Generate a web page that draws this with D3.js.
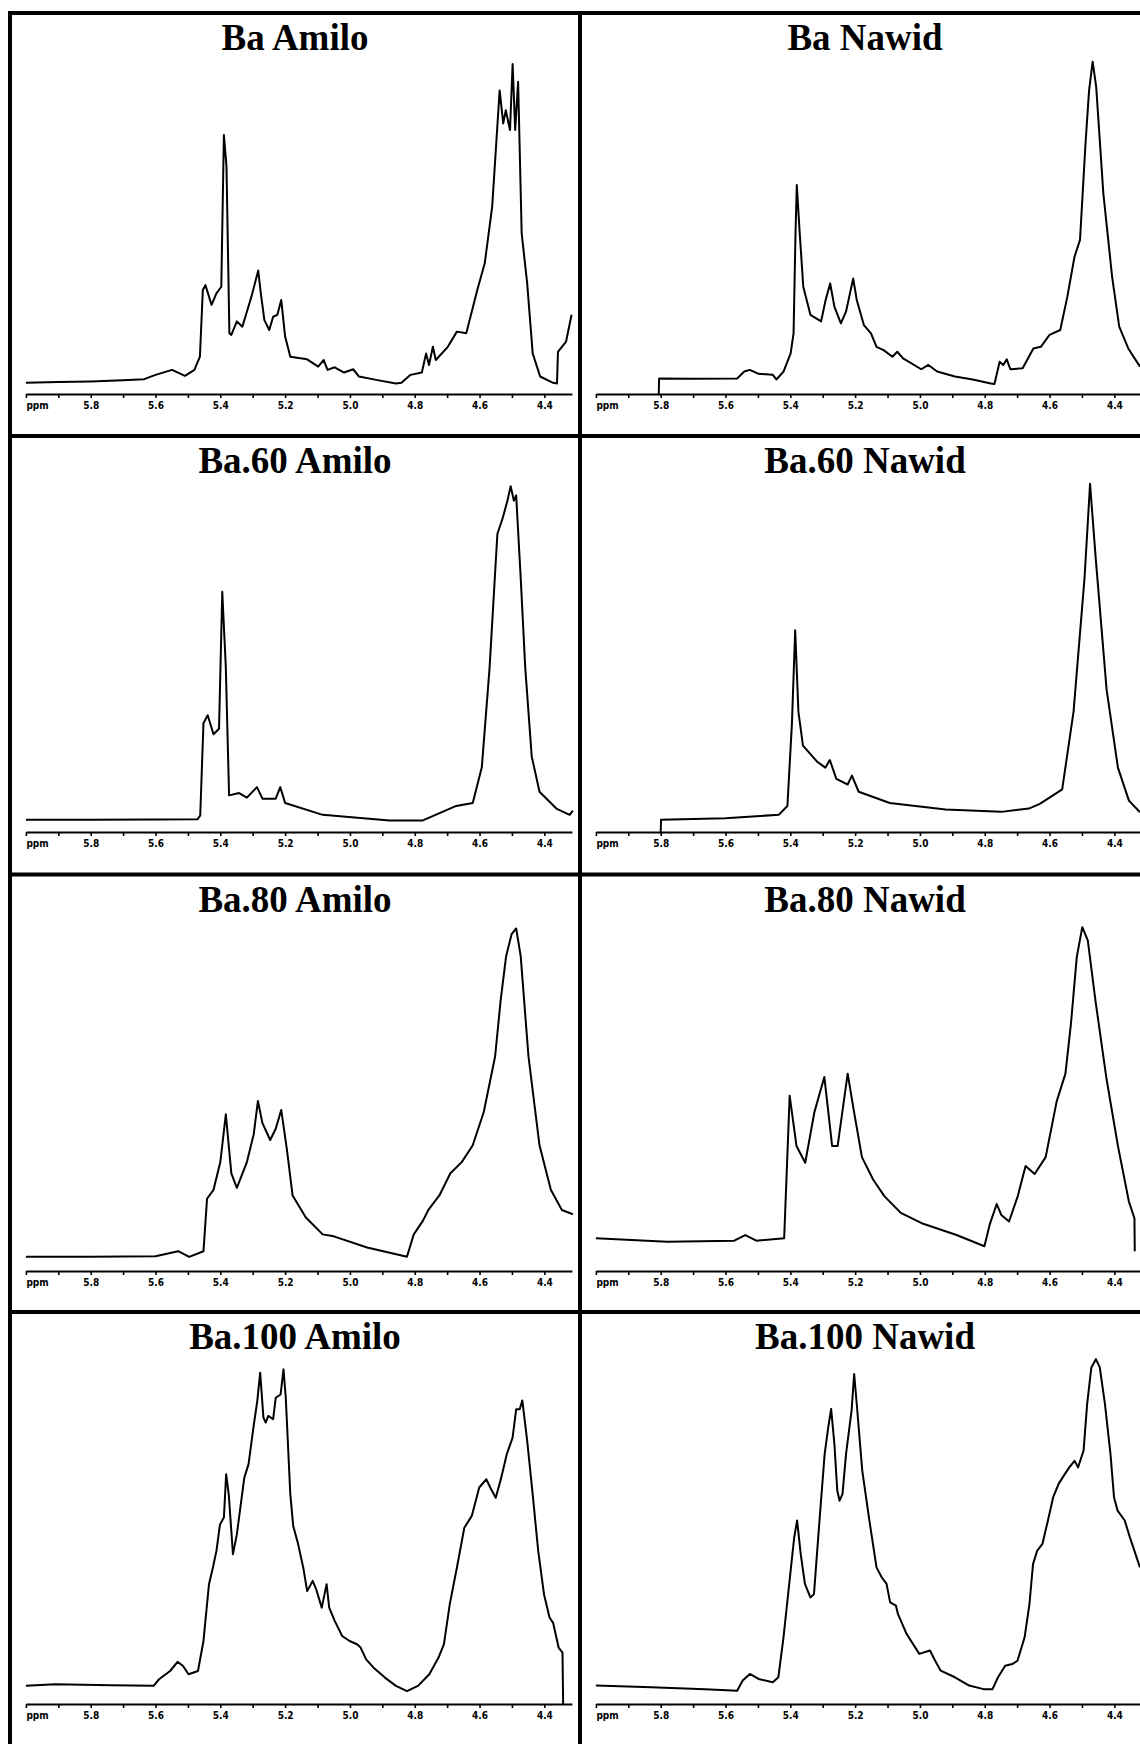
<!DOCTYPE html>
<html>
<head>
<meta charset="utf-8">
<script src="https://cdn.jsdelivr.net/npm/d3@7"></script>
<style>
  html, body { margin: 0; padding: 0; background: #fff; }
  svg { display: block; }
</style>
</head>
<body>
<svg id="chart" width="1140" height="1744"></svg>
<script>
// ---------- DATA (ppm, relative intensity) ----------
const panelTitles = [
  ["Ba Amilo", "Ba Nawid"],
  ["Ba.60 Amilo", "Ba.60 Nawid"],
  ["Ba.80 Amilo", "Ba.80 Nawid"],
  ["Ba.100 Amilo", "Ba.100 Nawid"]
];
const tickValues = [6.0, 5.9, 5.8, 5.7, 5.6, 5.5, 5.4, 5.3, 5.2, 5.1, 5.0, 4.9, 4.8, 4.7, 4.6, 4.5, 4.4];
const tickLabels = ["ppm", "", "5.8", "", "5.6", "", "5.4", "", "5.2", "", "5.0", "", "4.8", "", "4.6", "", "4.4"];
const ppmDomain = [6.0, 4.315];

const baAmilo = [[6.00,3.4],[5.90,3.6],[5.80,3.8],[5.70,4.2],[5.635,4.5],[5.60,5.8],[5.549,7.3],[5.509,5.5],[5.48,7.3],[5.463,11.3],[5.454,31.5],[5.446,33],[5.427,27],[5.412,30.5],[5.397,32.5],[5.389,78.5],[5.381,69],[5.372,18.4],[5.366,17.9],[5.349,22],[5.332,20.4],[5.304,29.5],[5.283,37.4],[5.275,30.5],[5.264,22.4],[5.249,19.4],[5.237,23.4],[5.224,24],[5.212,28.5],[5.200,17.4],[5.184,11.3],[5.132,10.5],[5.098,8.3],[5.081,10.3],[5.069,7.3],[5.047,8.1],[5.018,6.5],[4.99,7.5],[4.972,5.3],[4.915,4.2],[4.858,3.2],[4.841,3.4],[4.813,5.8],[4.778,6.5],[4.765,12.3],[4.756,8.8],[4.744,14.3],[4.735,10.3],[4.698,14.3],[4.67,18.9],[4.641,18.4],[4.607,31.5],[4.584,39.6],[4.561,56.8],[4.538,92],[4.527,82],[4.519,86],[4.506,80],[4.498,100],[4.49,80],[4.481,94.6],[4.47,48.7],[4.453,33.5],[4.436,12.3],[4.413,5.3],[4.373,3.4],[4.361,3.2],[4.358,12.8],[4.333,15.9],[4.316,24]];

const baNawid = [[5.806,0],[5.805,4.7],[5.70,4.6],[5.564,4.7],[5.542,6.8],[5.525,7.3],[5.498,6.1],[5.454,5.8],[5.443,4.4],[5.421,6.8],[5.399,12.3],[5.39,18.4],[5.384,48.7],[5.38,63.3],[5.371,48.7],[5.36,32.5],[5.338,24],[5.305,22],[5.291,28.5],[5.277,33.5],[5.264,26.5],[5.244,21.4],[5.228,25],[5.206,35],[5.195,28.5],[5.173,20.9],[5.151,18.4],[5.134,14.3],[5.112,13.3],[5.085,11.3],[5.07,12.8],[5.052,10.8],[4.996,7.5],[4.974,8.8],[4.947,6.8],[4.892,5.3],[4.837,4.4],[4.781,3.2],[4.77,3],[4.754,9.8],[4.743,8.8],[4.732,10.5],[4.721,7.5],[4.683,7.8],[4.65,13.8],[4.627,14.3],[4.6,17.9],[4.567,19.4],[4.545,29.5],[4.523,41.6],[4.506,46.7],[4.489,76],[4.478,92],[4.467,100.7],[4.456,93],[4.434,60.8],[4.407,35.6],[4.385,20.4],[4.357,13.8],[4.321,8.3]];

const ba60Amilo = [[6.0,3.7],[5.8,3.7],[5.6,3.8],[5.47,3.9],[5.462,5],[5.452,33],[5.439,35.4],[5.421,29.6],[5.404,31.3],[5.394,72.8],[5.383,49.8],[5.373,11.1],[5.342,11.8],[5.318,10.4],[5.287,13.6],[5.27,10.1],[5.229,10.1],[5.215,13.6],[5.2,8.8],[5.084,5.2],[4.878,3.5],[4.775,3.5],[4.672,7.9],[4.621,8.8],[4.593,19.6],[4.569,49.8],[4.545,90.3],[4.528,95.3],[4.514,100.4],[4.504,104.8],[4.494,100.4],[4.487,102],[4.473,77],[4.459,49.8],[4.439,22.9],[4.415,12.2],[4.363,7.1],[4.322,5.2],[4.312,6.5]];

const ba60Nawid = [[5.8,0],[5.799,3.7],[5.6,4.2],[5.436,5.2],[5.409,7.9],[5.395,33],[5.385,61.1],[5.375,36.4],[5.361,26.2],[5.316,21.2],[5.292,19.5],[5.278,21.8],[5.258,16.1],[5.223,14.4],[5.21,17.1],[5.189,12.2],[5.093,8.8],[4.921,6.8],[4.749,6.1],[4.664,7.1],[4.63,8.5],[4.561,12.9],[4.526,36.4],[4.492,77],[4.475,105.5],[4.458,83.5],[4.424,43.2],[4.389,19.5],[4.355,9.5],[4.321,6]];

const ba80Amilo = [[6.0,4.3],[5.8,4.3],[5.6,4.5],[5.53,6],[5.496,4.3],[5.452,6],[5.441,21.9],[5.421,24.6],[5.4,33],[5.383,47.5],[5.366,29.6],[5.349,25.2],[5.318,33],[5.297,41.4],[5.284,51.5],[5.27,44.8],[5.246,39.7],[5.229,43.1],[5.212,48.8],[5.194,36.4],[5.177,22.9],[5.136,16.2],[5.084,11.1],[5.05,10.5],[4.947,7.1],[4.824,4.3],[4.803,11.1],[4.775,15.2],[4.758,18.5],[4.724,22.9],[4.69,29.6],[4.655,33],[4.621,38.1],[4.587,48.2],[4.552,65],[4.535,81.9],[4.518,95.4],[4.501,102.1],[4.487,103.8],[4.473,95.4],[4.449,65],[4.415,38.1],[4.38,24.6],[4.346,18.5],[4.312,17.2]];

const ba80Nawid = [[6.0,9.9],[5.78,8.9],[5.573,9.2],[5.539,10.9],[5.505,9.2],[5.419,9.9],[5.402,53.1],[5.381,37.9],[5.354,32.8],[5.326,48],[5.295,58.8],[5.271,37.9],[5.254,37.9],[5.223,59.8],[5.203,48],[5.179,34.5],[5.145,27.8],[5.11,22.7],[5.059,17.6],[4.99,14.3],[4.887,10.9],[4.801,7.5],[4.784,14.3],[4.763,20.3],[4.749,17],[4.725,15],[4.698,22.7],[4.674,31.8],[4.646,29.4],[4.612,34.5],[4.578,51.4],[4.551,59.8],[4.534,74.9],[4.516,95.1],[4.499,104.2],[4.482,100.2],[4.458,81.7],[4.424,58.1],[4.389,37.9],[4.355,21],[4.338,16],[4.337,6]];

const ba100Amilo = [[6.0,5.5],[5.909,6],[5.737,5.7],[5.606,5.5],[5.589,7.5],[5.555,10],[5.532,12.8],[5.515,11.5],[5.498,9],[5.469,10],[5.452,19.1],[5.435,36.3],[5.423,41.3],[5.412,46.4],[5.401,54.4],[5.389,56.5],[5.382,69.6],[5.374,63.5],[5.361,45.4],[5.349,51.4],[5.326,68.6],[5.313,72.6],[5.298,83.7],[5.286,91.8],[5.277,100.4],[5.267,86.8],[5.26,85.3],[5.252,87.3],[5.237,86.3],[5.229,92.8],[5.214,93.8],[5.205,101.4],[5.198,92.8],[5.184,63.5],[5.175,53.9],[5.161,48.9],[5.144,41.3],[5.132,34.2],[5.115,37.3],[5.104,34.7],[5.087,29.2],[5.072,36.3],[5.064,29.2],[5.047,25.2],[5.024,20.6],[5.001,19.1],[4.978,18.1],[4.967,17.1],[4.95,13.5],[4.927,11],[4.892,8],[4.858,5.5],[4.824,3.9],[4.79,5.5],[4.755,9],[4.727,14],[4.71,18.1],[4.692,30.2],[4.67,41.3],[4.647,53.4],[4.624,57],[4.601,65.6],[4.579,68.1],[4.567,65.6],[4.55,62.5],[4.533,68.6],[4.516,75.7],[4.498,80.7],[4.487,89.3],[4.476,89.3],[4.468,92],[4.453,79.7],[4.436,63.5],[4.419,46.4],[4.401,33.2],[4.384,26.2],[4.373,24.6],[4.356,17.1],[4.344,15.6],[4.342,0]];

const ba100Nawid = [[6.0,5.6],[5.829,5.1],[5.663,4.5],[5.564,4],[5.547,7.1],[5.525,9.1],[5.498,7.6],[5.454,6.6],[5.437,8.1],[5.421,20.2],[5.399,40.4],[5.388,50.5],[5.379,55.6],[5.368,45.5],[5.355,36.4],[5.338,32.3],[5.327,33.3],[5.31,55.6],[5.294,75.8],[5.283,83.8],[5.274,89.4],[5.264,78.8],[5.255,64.6],[5.248,61.6],[5.239,63.6],[5.228,75.8],[5.211,88.9],[5.203,100],[5.195,90.9],[5.178,70.7],[5.156,55.6],[5.134,41.4],[5.118,38.4],[5.103,36.4],[5.092,30.8],[5.074,29.8],[5.068,27.3],[5.041,21.2],[5.002,15.2],[4.969,16.2],[4.953,13.1],[4.936,10.1],[4.892,8.1],[4.848,5.6],[4.804,4.5],[4.776,4.5],[4.759,8.1],[4.737,11.6],[4.715,12.1],[4.699,13.1],[4.677,20.2],[4.662,30.3],[4.651,42.4],[4.638,46.5],[4.622,48.5],[4.605,55.6],[4.589,62.6],[4.572,66.7],[4.556,69.2],[4.539,71.7],[4.523,73.7],[4.512,71.7],[4.495,76.8],[4.484,90.9],[4.471,102],[4.457,104.5],[4.445,102],[4.429,90.9],[4.412,75.8],[4.401,62.6],[4.39,58.6],[4.368,55.6],[4.352,50.5],[4.321,41.4]];

const spectra = [
  [baAmilo, baNawid],
  [ba60Amilo, ba60Nawid],
  [ba80Amilo, ba80Nawid],
  [ba100Amilo, ba100Nawid]
];

// ---------- LAYOUT ----------
const colLefts = [10, 580];
const colRight = 1150;
const rowTops = [13, 436, 874.5, 1312];
const rowBottom = 1750;
const axisYs = [394, 832, 1271, 1704];
const axisInset = 15.9;
const axisWidth = 546;
const intensityPx = 330;

const svg = d3.select("#chart");
svg.append("rect").attr("width", 1140).attr("height", 1744).attr("fill", "#fff");

spectra.forEach((row, r) => {
  row.forEach((data, c) => {
    const left = colLefts[c];
    const x = d3.scaleLinear().domain(ppmDomain).range([left + axisInset, left + axisInset + axisWidth]);
    const y = d3.scaleLinear().domain([0, 100]).range([axisYs[r], axisYs[r] - intensityPx]);
    const g = svg.append("g");

    // title
    g.append("text")
      .attr("x", left + 285)
      .attr("y", rowTops[r] + 37)
      .attr("text-anchor", "middle")
      .attr("font-family", "'Liberation Serif','Times New Roman',serif")
      .attr("font-weight", "bold")
      .attr("font-size", 37)
      .attr("fill", "#000")
      .text(panelTitles[r][c]);

    // axis
    const axis = d3.axisBottom(x)
      .tickValues(tickValues)
      .tickSize(4)
      .tickSizeOuter(0)
      .tickFormat((d, i) => tickLabels[i]);
    const ag = g.append("g").attr("transform", `translate(0,${axisYs[r]})`).call(axis);
    ag.select(".domain").attr("stroke", "#000").attr("stroke-width", 2);
    ag.selectAll(".tick line").attr("stroke", "#000").attr("stroke-width", 1.6);
    ag.selectAll(".tick text")
      .attr("font-family", "'DejaVu Sans Condensed','Liberation Sans Narrow',sans-serif")
      .attr("font-weight", "bold")
      .attr("font-size", 10)
      .attr("fill", "#000")
      .attr("y", 8)
      .attr("dy", "0.71em");
    ag.selectAll(".tick text").filter((d, i) => i === 0)
      .attr("text-anchor", "start")
      .attr("x", 0);

    // spectrum
    const line = d3.line().x(d => x(d[0])).y(d => y(d[1]));
    g.append("path")
      .datum(data)
      .attr("d", line)
      .attr("fill", "none")
      .attr("stroke", "#000")
      .attr("stroke-width", 2)
      .attr("stroke-linejoin", "round");
  });
});

// frame
const frame = svg.append("g").attr("stroke", "#000").attr("stroke-width", 4);
rowTops.concat([rowBottom]).forEach(yv => {
  frame.append("line").attr("x1", colLefts[0]).attr("x2", colRight).attr("y1", yv).attr("y2", yv);
});
colLefts.concat([colRight]).forEach(xv => {
  frame.append("line").attr("x1", xv).attr("x2", xv).attr("y1", rowTops[0] - 2).attr("y2", rowBottom);
});
</script>
</body>
</html>
